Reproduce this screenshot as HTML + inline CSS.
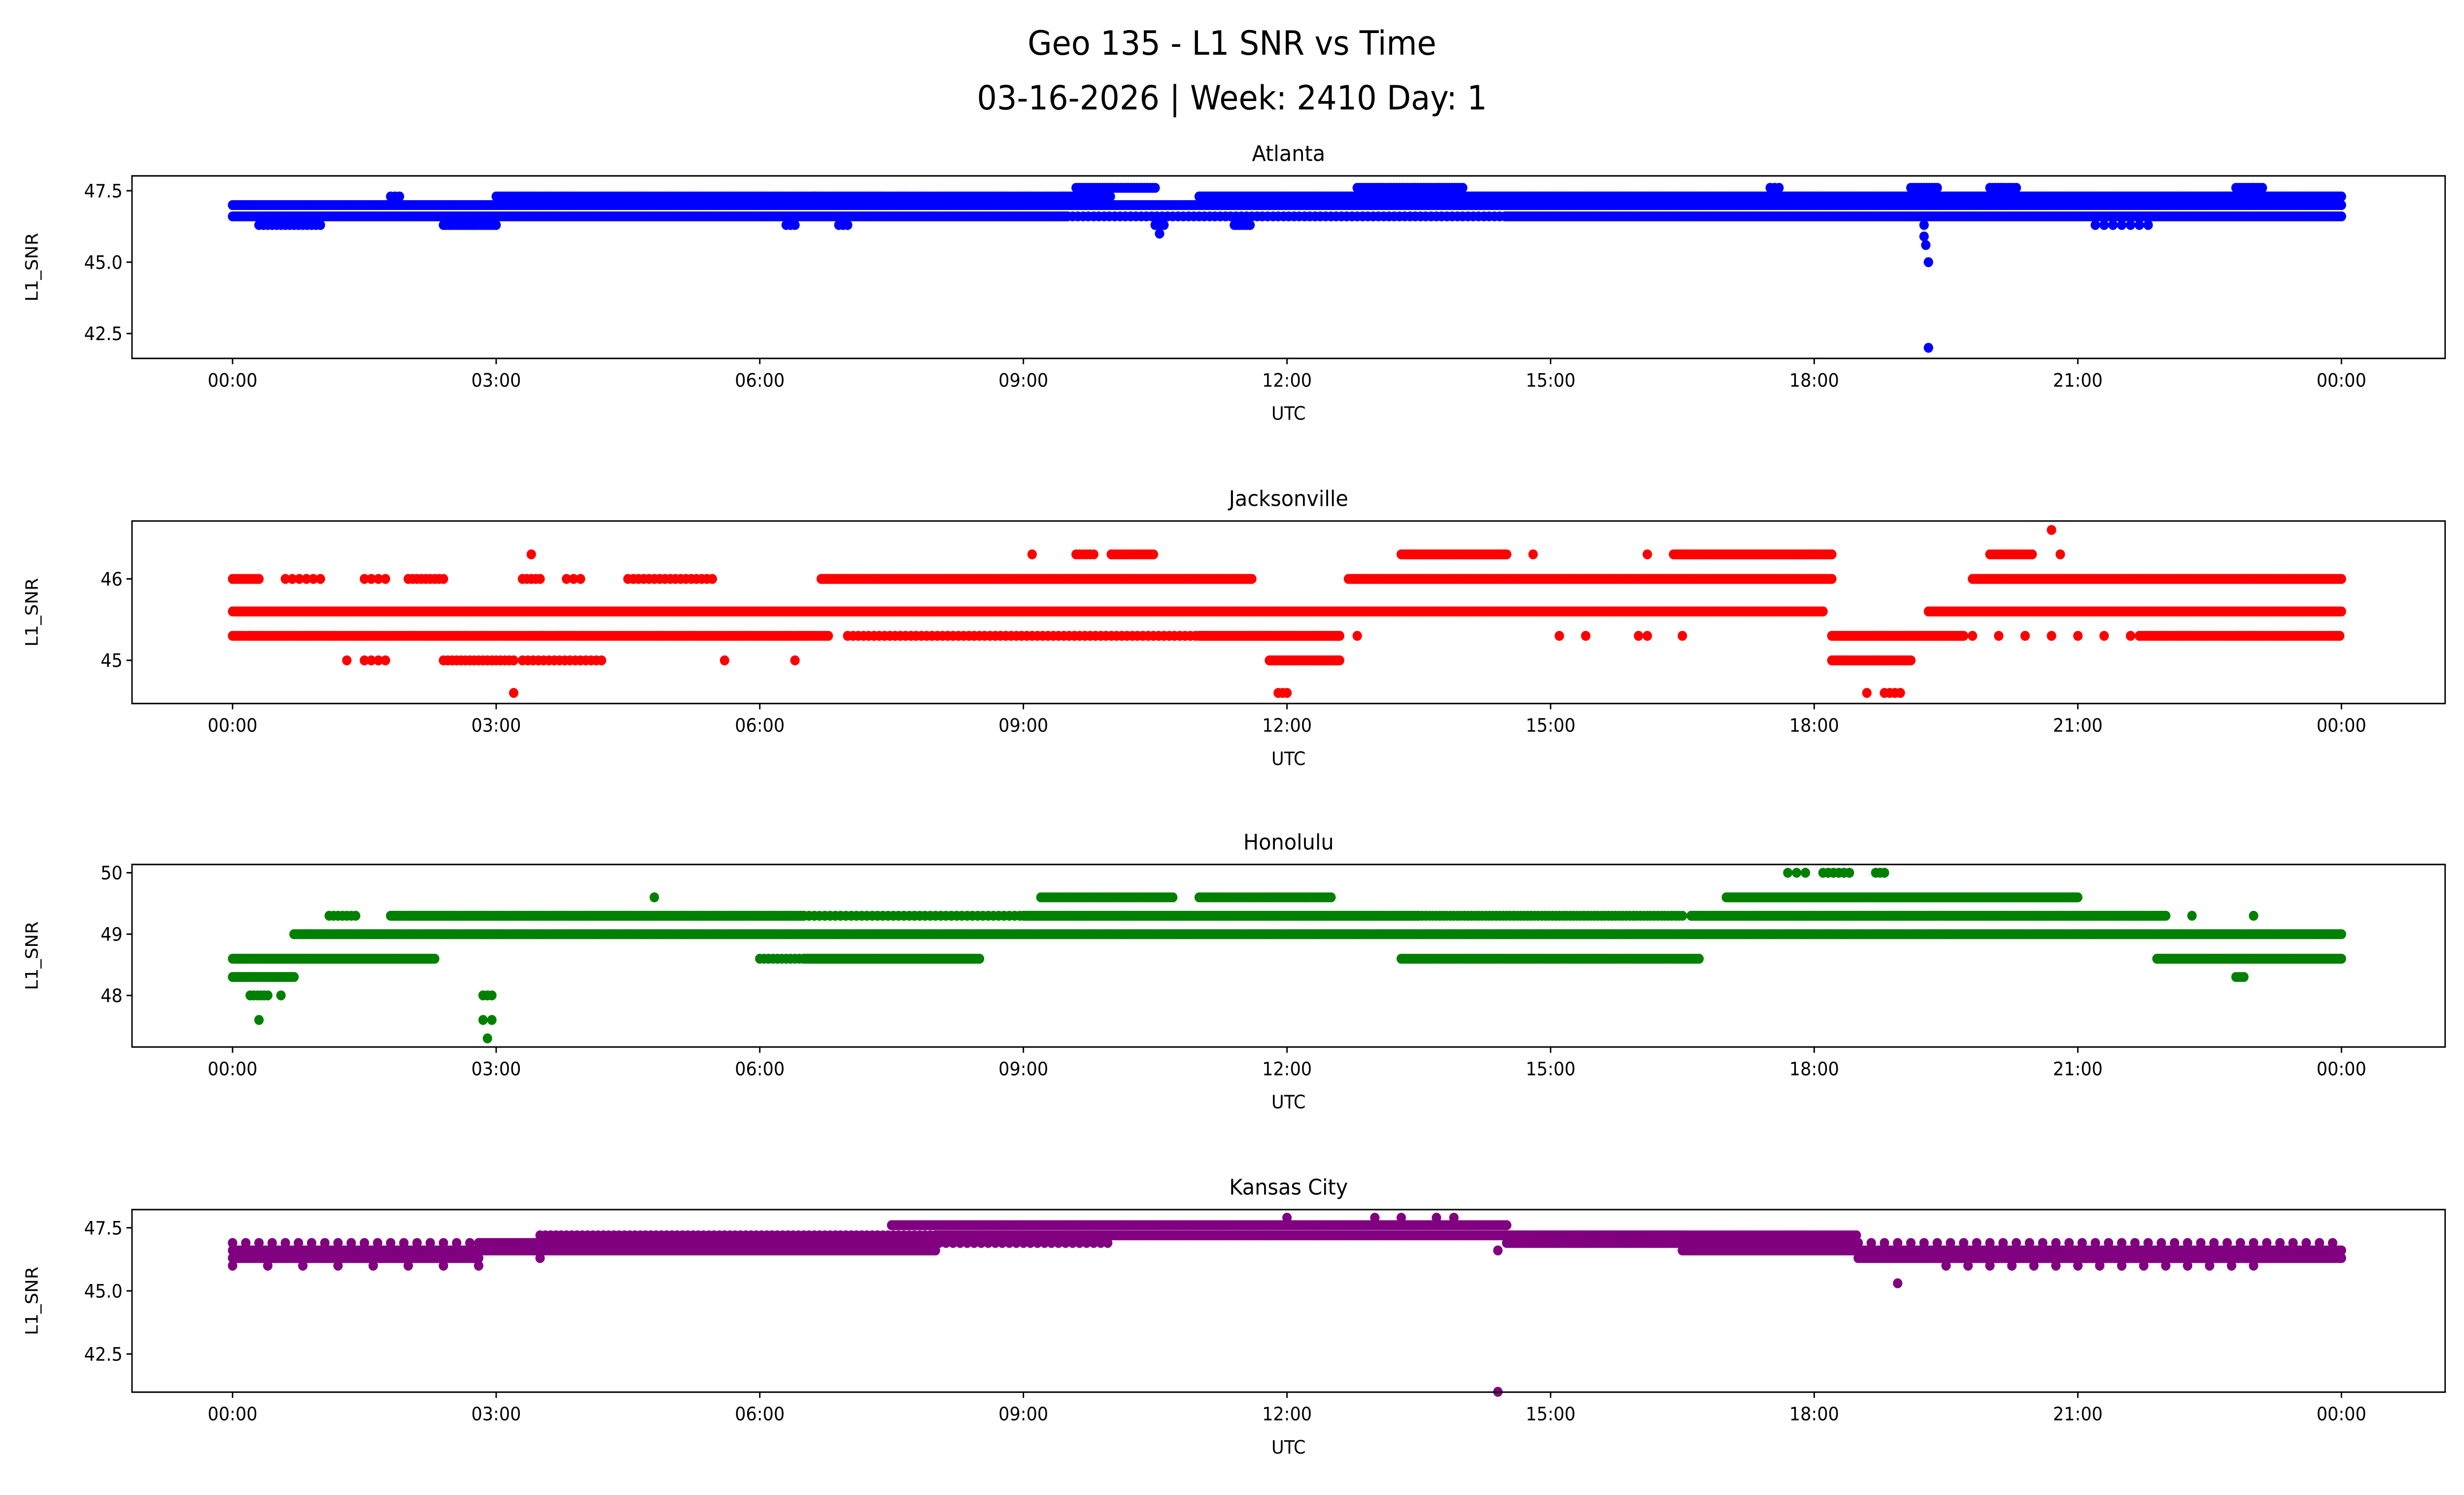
<!DOCTYPE html>
<html><head><meta charset="utf-8"><style>
html,body{margin:0;padding:0;background:#fff;overflow:hidden;width:100vw;height:100vh}
svg{display:block;width:100vw;height:100vh}
text{font-family:"DejaVu Sans","Liberation Sans",sans-serif;fill:#000}
</style></head>
<body>
<svg id="chart" xmlns="http://www.w3.org/2000/svg" viewBox="0 0 1568 901" preserveAspectRatio="none">
<rect width="1568" height="901" fill="#fff"/>
<text x="784" y="33" font-size="20" text-anchor="middle">Geo 135 - L1 SNR vs Time</text>
<text x="784" y="66" font-size="20" text-anchor="middle">03-16-2026 | Week: 2410 Day: 1</text>
<g id="panels"></g>
</svg>
<script>
// ---- data (hours UTC, L1 SNR) : [startHour, endHour, level, sampleStepHours]
const xTickLabels = ["00:00","03:00","06:00","09:00","12:00","15:00","18:00","21:00","00:00"];
const xTickHours = [0,3,6,9,12,15,18,21,24];

const atlantaSegs = [
 [0,24,47.0,0.02],[0,9.5,46.6,0.02],[14.5,24,46.6,0.02],[9.5,14.5,46.6,0.06],
 [3,10,47.3,0.03],[11,24,47.3,0.02],[1.8,1.9,47.3,0.05],
 [9.6,10.5,47.6,0.03],[12.8,14,47.6,0.03],[17.5,17.6,47.6,0.05],[19.1,19.4,47.6,0.03],[20,20.3,47.6,0.03],[22.8,23.1,47.6,0.03],
 [0.3,1.0,46.3,0.05],[2.4,3.0,46.3,0.03],[11.4,11.6,46.3,0.03],[21.2,21.8,46.3,0.1],[6.3,6.4,46.3,0.05],[6.9,7.0,46.3,0.05],[10.5,10.6,46.3,0.05]
];
const atlantaPts = [[10.55,46.0],[19.25,46.3],[19.25,45.9],[19.27,45.6],[19.3,45.0],[19.3,42.0]];

const jaxSegs = [
 [0,18.1,45.6,0.02],[19.3,24,45.6,0.02],
 [0,6.8,45.3,0.03],[7,11,45.3,0.06],[11,12.6,45.3,0.02],[18.2,19.7,45.3,0.02],[21.7,24,45.3,0.03],[19.8,21.7,45.3,0.3],
 [0,0.3,46.0,0.03],[0.6,1.0,46.0,0.08],[1.5,1.8,46.0,0.08],[2.0,2.4,46.0,0.05],[3.3,3.5,46.0,0.05],[3.8,4.0,46.0,0.08],[4.5,5.5,46.0,0.06],
 [6.7,11.6,46.0,0.02],[12.7,18.2,46.0,0.02],[19.8,24,46.0,0.02],
 [1.5,1.8,45.0,0.08],[2.4,3.2,45.0,0.05],[3.3,4.2,45.0,0.06],[11.8,12.6,45.0,0.02],[18.2,19.1,45.0,0.02],
 [13.3,14.5,46.3,0.02],[9.6,9.8,46.3,0.04],[10.0,10.5,46.3,0.03],[16.4,18.2,46.3,0.02],[20.0,20.5,46.3,0.03],
 [18.8,19.0,44.6,0.06],[11.9,12.0,44.6,0.05]
];
const jaxPts = [[1.3,45.0],[5.6,45.0],[6.4,45.0],[3.4,46.3],[9.1,46.3],[14.8,46.3],[16.1,46.3],[20.8,46.3],[3.2,44.6],[18.6,44.6],[20.7,46.6],[12.8,45.3],[15.1,45.3],[15.4,45.3],[16.0,45.3],[16.1,45.3],[16.5,45.3]];

const honSegs = [
 [0.7,24,49.0,0.02],
 [1.1,1.4,49.3,0.05],[1.8,6.5,49.3,0.02],[6.5,9,49.3,0.06],[9,13.5,49.3,0.02],[13.5,16.5,49.3,0.04],[16.6,22,49.3,0.02],
 [0,2.3,48.6,0.02],[6.0,6.5,48.6,0.05],[6.5,8.5,48.6,0.02],[13.3,16.7,48.6,0.03],[21.9,24,48.6,0.02],
 [0,0.7,48.3,0.02],[22.8,22.9,48.3,0.03],[0.2,0.4,48.0,0.04],[2.85,2.95,48.0,0.05],[2.85,2.95,47.6,0.1],
 [9.2,10.7,49.6,0.03],[11,12.5,49.6,0.03],[17,21,49.6,0.02],
 [17.7,17.9,50.0,0.1],[18.1,18.4,50.0,0.06],[18.7,18.8,50.0,0.05]
];
const honPts = [[0.55,48.0],[0.3,47.6],[2.9,47.3],[4.8,49.6],[22.3,49.3],[23,49.3]];

const kcSegs = [
 [0,2.8,46.3,0.02],[0,2.8,46.6,0.02],[0,2.8,46.9,0.15],[0,2.8,46.0,0.4],
 [2.8,8,46.6,0.02],[2.8,8,46.9,0.02],[3.5,8,47.2,0.06],
 [8,14.5,47.2,0.02],[7.5,14.5,47.6,0.02],[7,10,46.9,0.08],
 [14.5,16.5,46.9,0.02],[14.5,16.5,47.2,0.02],
 [16.5,18.5,46.6,0.02],[16.5,18.5,46.9,0.02],[16.5,18.5,47.2,0.03],
 [18.5,24,46.3,0.02],[18.5,24,46.6,0.02],[18.5,24,46.9,0.15],[19.5,23,46.0,0.25]
];
const kcPts = [[14.4,41.0],[18.95,45.3],[12.0,47.9],[13.0,47.9],[13.3,47.9],[13.7,47.9],[13.9,47.9],[14.4,46.6],[3.5,46.3]];

const panels = [
 {name:"atlanta",title:"Atlanta",color:"blue",top:106,ymin:41.63,ymax:48.02,ticks:[42.5,45.0,47.5],labels:["42.5","45.0","47.5"],segs:atlantaSegs,pts:atlantaPts},
 {name:"jacksonville",title:"Jacksonville",color:"red",top:314,ymin:44.47,ymax:46.71,ticks:[45,46],labels:["45","46"],segs:jaxSegs,pts:jaxPts},
 {name:"honolulu",title:"Honolulu",color:"green",top:521,ymin:47.16,ymax:50.135,ticks:[48,49,50],labels:["48","49","50"],segs:honSegs,pts:honPts},
 {name:"kansas-city",title:"Kansas City",color:"purple",top:729,ymin:40.99,ymax:48.22,ticks:[42.5,45.0,47.5],labels:["42.5","45.0","47.5"],segs:kcSegs,pts:kcPts}
];

const NS="http://www.w3.org/2000/svg";
const L=84,R=1556,H=110;
const xs=h=>148+h*(1342/24);
function mk(tag,attrs,parent,txt){const e=document.createElementNS(NS,tag);for(const k in attrs)e.setAttribute(k,attrs[k]);if(txt!==undefined)e.textContent=txt;parent.appendChild(e);return e;}
const root=document.getElementById('panels');
panels.forEach(p=>{
 const g=mk('g',{},root);
 
 
 const ys=v=>p.top+H-(v-p.ymin)/(p.ymax-p.ymin)*H;
 const t=mk('text',{x:(L+R)/2,y:p.top-9,'font-size':13,'text-anchor':'middle'},g,p.title);
 
 
 const pts=mk('g',{fill:p.color},g);
 
 
 p.segs.forEach(s=>{
   for(let h=s[0];h<=s[1]+1e-9;h+=s[3]){
     mk('circle',{cx:xs(h).toFixed(1),cy:ys(s[2]).toFixed(1),r:3},pts);
   }
 });
 p.pts.forEach(q=>{
   const c=mk('circle',{cx:xs(q[0]).toFixed(1),cy:ys(q[1]).toFixed(1),r:3},pts);
   
   
 });
 const fr=mk('rect',{x:L,y:p.top,width:R-L,height:H,fill:'none',stroke:'#000','stroke-width':0.9},g);
 
 
 xTickHours.forEach((h,i)=>{
   mk('line',{x1:xs(h),x2:xs(h),y1:p.top+H,y2:p.top+H+3.5,stroke:'#000','stroke-width':0.9},g);
   const tl=mk('text',{x:xs(h),y:p.top+H+17,'font-size':11,'text-anchor':'middle'},g,xTickLabels[i]);
   
   
 });
 p.ticks.forEach((v,i)=>{
   mk('line',{x1:L-3.5,x2:L,y1:ys(v),y2:ys(v),stroke:'#000','stroke-width':0.9},g);
   const tl=mk('text',{x:L-6,y:ys(v)+4,'font-size':11,'text-anchor':'end'},g,p.labels[i]);
   
   
 });
 const xl=mk('text',{x:(L+R)/2,y:p.top+H+37,'font-size':11,'text-anchor':'middle'},g,'UTC');
 
 
 const yl=mk('text',{x:0,y:0,'font-size':11,'text-anchor':'middle',transform:`translate(24,${p.top+H/2}) rotate(-90)`},g,'L1_SNR');
 
 
});
</script>
</body></html>
